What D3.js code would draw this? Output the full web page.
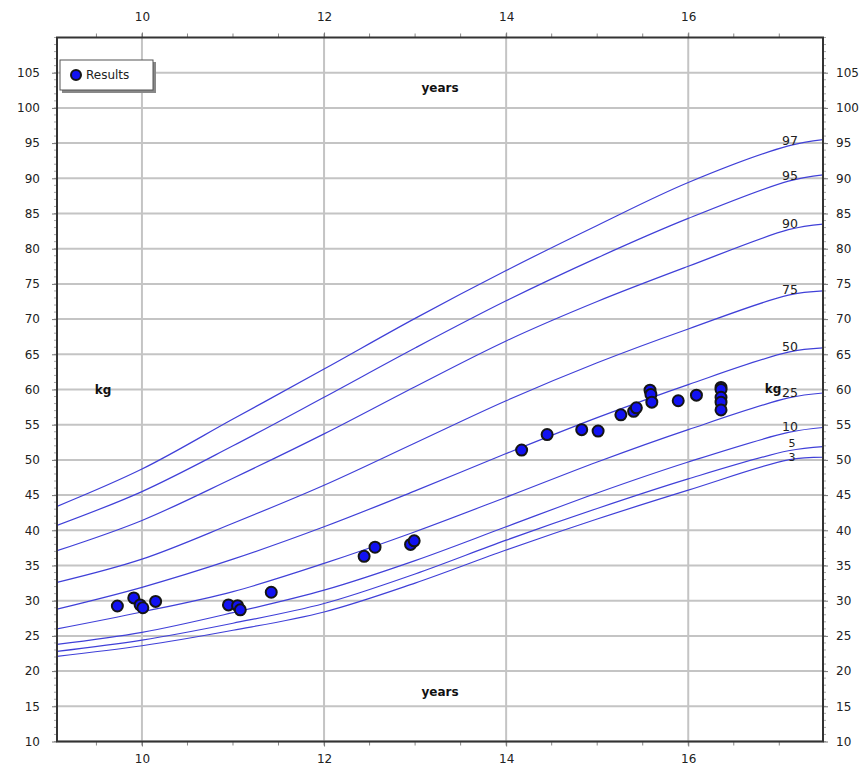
<!DOCTYPE html>
<html>
<head>
<meta charset="utf-8">
<script src="https://cdn.jsdelivr.net/npm/d3@7"></script>
<style>
  html, body { margin: 0; padding: 0; background: #fff; }
  svg text { font-family: "DejaVu Sans", Verdana, sans-serif; }
</style>
</head>
<body>
<svg id="chart" width="866" height="769"></svg>
<script>
// ---- data ----
const ages = [9.067, 10, 11, 12, 13, 14, 15, 16, 17.1, 17.48];
const percentileNames = ["3", "5", "10", "25", "50", "75", "90", "95", "97"];
const p3  = [22.1, 23.6, 25.8, 28.4, 32.5, 37.2, 41.6, 45.7, 50.0, 50.4];
const p5  = [22.8, 24.4, 26.8, 29.6, 33.8, 38.6, 43.1, 47.3, 51.3, 51.9];
const p10 = [23.8, 25.5, 28.3, 31.5, 35.7, 40.5, 45.3, 49.7, 53.9, 54.6];
const p25 = [26.0, 28.4, 31.3, 35.3, 39.8, 44.7, 49.7, 54.3, 58.8, 59.5];
const p50 = [28.8, 31.9, 35.9, 40.5, 45.6, 50.9, 56.0, 60.7, 65.3, 65.9];
const p75 = [32.6, 35.9, 41.0, 46.4, 52.4, 58.4, 63.8, 68.6, 73.4, 74.0];
const p90 = [37.1, 41.4, 47.4, 53.7, 60.4, 66.9, 72.5, 77.5, 82.7, 83.5];
const p95 = [40.7, 45.5, 52.0, 58.9, 65.9, 72.6, 78.7, 84.3, 89.6, 90.5];
const p97 = [43.4, 48.7, 55.8, 62.9, 70.1, 76.9, 83.3, 89.4, 94.6, 95.5];
const percentileSeries = [p3, p5, p10, p25, p50, p75, p90, p95, p97];

const resultAges    = [9.73, 9.91, 9.98, 10.01, 10.15, 10.95, 11.05, 11.08, 11.42, 12.44, 12.56, 12.95, 12.99,
                       14.17, 14.45, 14.83, 15.01, 15.26, 15.40, 15.43, 15.58, 15.59, 15.60, 15.89, 16.09,
                       16.36, 16.36, 16.36, 16.36, 16.36];
const resultWeights = [29.25, 30.4, 29.4, 29.0, 29.9, 29.4, 29.3, 28.7, 31.2, 36.3, 37.6, 38.0, 38.5,
                       51.4, 53.6, 54.3, 54.1, 56.4, 56.9, 57.4, 59.9, 59.3, 58.2, 58.4, 59.2,
                       60.3, 60.0, 58.9, 58.2, 57.1];

const xTickValues = [10, 12, 14, 16];
const yTickValues = [10, 15, 20, 25, 30, 35, 40, 45, 50, 55, 60, 65, 70, 75, 80, 85, 90, 95, 100, 105];

// ---- layout ----
const svg = d3.select("#chart");
const pL = 57, pR = 823, pT = 37.5, pB = 741.5;
const x = d3.scaleLinear().domain([9.067, 17.48]).range([pL, pR]);
const y = d3.scaleLinear().domain([10, 110]).range([pB, pT]);

svg.append("rect").attr("width", 866).attr("height", 769).attr("fill", "#fff");

svg.append("defs").append("clipPath").attr("id", "plotclip")
  .append("rect").attr("x", pL).attr("y", pT).attr("width", pR - pL).attr("height", pB - pT);

// grid
const grid = svg.append("g");
grid.selectAll("line.h").data(yTickValues).enter().append("line")
  .attr("x1", pL).attr("x2", pR)
  .attr("y1", d => y(d)).attr("y2", d => y(d))
  .attr("stroke", "#c4c4c4").attr("stroke-width", 2);
grid.selectAll("line.v").data(xTickValues).enter().append("line")
  .attr("y1", pT).attr("y2", pB)
  .attr("x1", d => x(d)).attr("x2", d => x(d))
  .attr("stroke", "#c4c4c4").attr("stroke-width", 2);

// percentile curves
const line = d3.line().x(d => x(d[0])).y(d => y(d[1])).curve(d3.curveCatmullRom.alpha(0.5));
const curveG = svg.append("g").attr("clip-path", "url(#plotclip)");
percentileSeries.forEach(s => {
  curveG.append("path")
    .attr("d", line(ages.map((a, i) => [a, s[i]])))
    .attr("fill", "none").attr("stroke", "#4040d8").attr("stroke-width", 1.2);
});

// percentile labels near right end
const labelAge = x.invert(790);
const labelOffset = { "3": -2, "5": -6.5 };
percentileSeries.forEach((s, k) => {
  const v = d3.scaleLinear().domain(ages).range(s)(labelAge);
  const name = percentileNames[k];
  svg.append("text")
    .attr("x", x(labelAge) + (name === "3" || name === "5" ? 2 : 0))
    .attr("y", y(v) + (labelOffset[name] !== undefined ? labelOffset[name] : -4.5))
    .attr("text-anchor", "middle").attr("dominant-baseline", "middle")
    .attr("font-size", name === "3" || name === "5" ? 11 : 12.5).attr("fill", "#222")
    .text(name);
});

// axis titles inside plot
const titleStyle = sel => sel.attr("font-size", 12).attr("font-weight", "bold").attr("fill", "#111");
svg.append("text").attr("x", 440).attr("y", 88).attr("text-anchor", "middle")
  .attr("dominant-baseline", "middle").call(titleStyle).text("years");
svg.append("text").attr("x", 440).attr("y", 692).attr("text-anchor", "middle")
  .attr("dominant-baseline", "middle").call(titleStyle).text("years");
svg.append("text").attr("x", 103).attr("y", 390).attr("text-anchor", "middle")
  .attr("dominant-baseline", "middle").call(titleStyle).text("kg");
svg.append("text").attr("x", 773).attr("y", 389).attr("text-anchor", "middle")
  .attr("dominant-baseline", "middle").call(titleStyle).text("kg");

// data points
svg.append("g").attr("clip-path", "url(#plotclip)")
  .selectAll("circle").data(resultAges.map((a, i) => [a, resultWeights[i]])).enter()
  .append("circle")
  .attr("cx", d => x(d[0])).attr("cy", d => y(d[1])).attr("r", 5.5)
  .attr("fill", "#1212f2").attr("stroke", "#151515").attr("stroke-width", 2);

// axes
const minorX = d3.range(9.5, 17.5, 0.5);
const minorY = d3.range(10, 111, 1);

function styleAxis(g) {
  g.select(".domain").remove();
  g.selectAll(".tick line").attr("stroke", "#777");
  g.selectAll(".tick text").attr("font-size", 12).attr("fill", "#222")
   .style("font-family", "'DejaVu Sans', Verdana, sans-serif");
}

[[pT, -1], [pB, 1]].forEach(([yy, dir]) => {
  svg.append("g").selectAll("line").data(minorX).enter().append("line")
    .attr("x1", d => x(d)).attr("x2", d => x(d))
    .attr("y1", yy).attr("y2", yy + dir * 4)
    .attr("stroke", "#888").attr("stroke-width", 1);
});
[[pL, -1], [pR, 1]].forEach(([xx, dir]) => {
  svg.append("g").selectAll("line").data(minorY).enter().append("line")
    .attr("y1", d => y(d)).attr("y2", d => y(d))
    .attr("x1", xx).attr("x2", xx + dir * 3)
    .attr("stroke", "#aaa").attr("stroke-width", 1);
});

svg.append("g").attr("transform", `translate(0,${pT})`)
  .call(d3.axisTop(x).tickValues(xTickValues).tickFormat(d3.format("d")).tickSize(5).tickPadding(12))
  .call(styleAxis);
svg.append("g").attr("transform", `translate(0,${pB})`)
  .call(d3.axisBottom(x).tickValues(xTickValues).tickFormat(d3.format("d")).tickSize(5).tickPadding(8))
  .call(styleAxis);
svg.append("g").attr("transform", `translate(${pL},0)`)
  .call(d3.axisLeft(y).tickValues(yTickValues).tickFormat(d3.format("d")).tickSize(5).tickPadding(12))
  .call(styleAxis);
svg.append("g").attr("transform", `translate(${pR},0)`)
  .call(d3.axisRight(y).tickValues(yTickValues).tickFormat(d3.format("d")).tickSize(5).tickPadding(8))
  .call(styleAxis);

// frame
svg.append("rect").attr("x", pL).attr("y", pT).attr("width", pR - pL).attr("height", pB - pT)
  .attr("fill", "none").attr("stroke", "#333").attr("stroke-width", 2);

// legend
const lg = svg.append("g");
lg.append("rect").attr("x", 62).attr("y", 62).attr("width", 94).attr("height", 31).attr("fill", "#888");
lg.append("rect").attr("x", 60).attr("y", 60).attr("width", 93).attr("height", 30)
  .attr("fill", "#fff").attr("stroke", "#555").attr("stroke-width", 1);
lg.append("circle").attr("cx", 76).attr("cy", 75).attr("r", 5)
  .attr("fill", "#1212f2").attr("stroke", "#151515").attr("stroke-width", 2);
lg.append("text").attr("x", 86).attr("y", 75).attr("dominant-baseline", "middle")
  .attr("font-size", 12).attr("fill", "#222").text("Results");
</script>
</body>
</html>
